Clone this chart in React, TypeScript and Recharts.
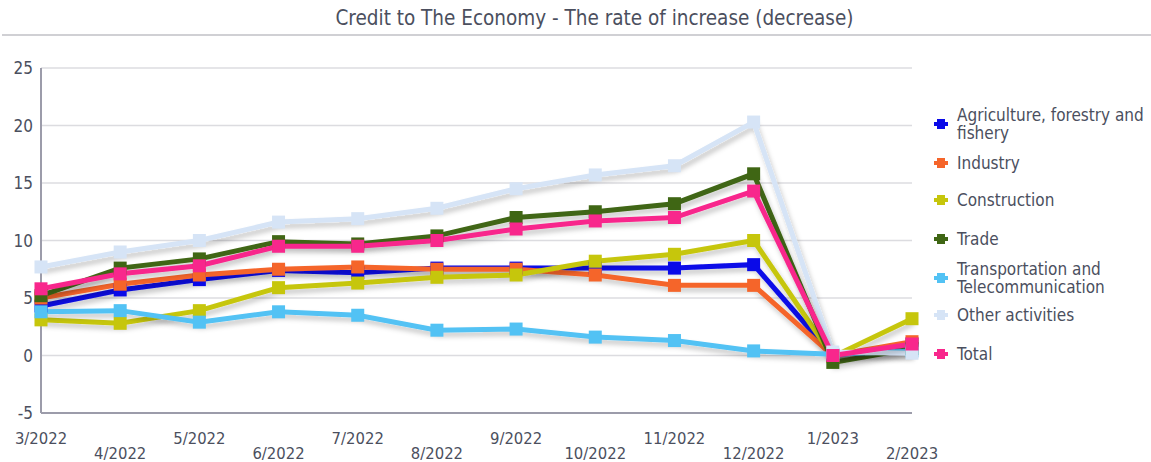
import { CartesianGrid, Line, LineChart, XAxis, YAxis } from "recharts";

document.body.style.margin = "0";

const months = [
  "3/2022", "4/2022", "5/2022", "6/2022", "7/2022", "8/2022",
  "9/2022", "10/2022", "11/2022", "12/2022", "1/2023", "2/2023",
];

const agriculture = [4.3, 5.7, 6.6, 7.4, 7.2, 7.6, 7.6, 7.6, 7.6, 7.9, 0.0, 1.0];
const industry = [5.0, 6.2, 7.0, 7.5, 7.7, 7.5, 7.5, 7.0, 6.1, 6.1, 0.0, 1.2];
const construction = [3.1, 2.8, 3.9, 5.9, 6.3, 6.8, 7.0, 8.2, 8.8, 10.0, -0.1, 3.2];
const trade = [5.2, 7.6, 8.4, 9.9, 9.7, 10.4, 12.0, 12.5, 13.2, 15.8, -0.6, 0.6];
const transport = [3.8, 3.9, 2.9, 3.8, 3.5, 2.2, 2.3, 1.6, 1.3, 0.4, 0.1, 0.4];
const other = [7.7, 9.0, 10.0, 11.6, 11.9, 12.8, 14.5, 15.7, 16.5, 20.3, 0.3, 0.2];
const total = [5.8, 7.1, 7.8, 9.5, 9.5, 10.0, 11.0, 11.7, 12.0, 14.3, 0.0, 1.0];

const yTicks = [-5, 0, 5, 10, 15, 20, 25];

const series = [
  { key: "agriculture", name: ["Agriculture, forestry and", "fishery"], color: "#0a0ae8", values: agriculture },
  { key: "industry", name: ["Industry"], color: "#f5652a", values: industry },
  { key: "construction", name: ["Construction"], color: "#c6c60c", values: construction },
  { key: "trade", name: ["Trade"], color: "#3f6614", values: trade },
  { key: "transport", name: ["Transportation and", "Telecommunication"], color: "#52c2f4", values: transport },
  { key: "other", name: ["Other activities"], color: "#d6e4f6", values: other },
  { key: "total", name: ["Total"], color: "#f8278c", values: total },
];

const data = months.map((m, i) => {
  const row: Record<string, string | number> = { month: m };
  series.forEach((s) => (row[s.key] = s.values[i]));
  return row;
});

const font = "'DejaVu Sans Condensed', 'DejaVu Sans', sans-serif";
const textColor = "#4b4f5e";

const legendRows = [
  { top: 106, h: 36 },
  { top: 153, h: 20 },
  { top: 190, h: 20 },
  { top: 229, h: 20 },
  { top: 260, h: 36 },
  { top: 305, h: 20 },
  { top: 344, h: 20 },
];

function SquareDot(props: any) {
  const { cx, cy, stroke } = props;
  if (cx == null || cy == null) return null;
  return <rect x={cx - 6.5} y={cy - 6.5} width={13} height={13} fill={stroke} />;
}

function MonthTick(props: any) {
  const { x, y, payload, index } = props;
  const dy = index % 2 === 0 ? 23 : 38;
  return (
    <text x={x} y={y + dy} textAnchor="middle" fontSize={16.5} fill={textColor} fontFamily={font}>
      {payload.value}
    </text>
  );
}

export default function App() {
  return (
    <div style={{ position: "relative", width: 1151, height: 462, background: "#fff", fontFamily: font }}>
      <div
        style={{
          position: "absolute",
          top: 6,
          left: 0,
          width: 1189,
          textAlign: "center",
          fontSize: 20.5,
          color: textColor,
        }}
      >
        Credit to The Economy - The rate of increase (decrease)
      </div>
      <div style={{ position: "absolute", top: 34, left: 2, width: 1149, height: 2, background: "#d0d0d4" }} />
      <LineChart
        width={1151}
        height={462}
        data={data}
        margin={{ top: 68, right: 239, bottom: 0, left: 6 }}
      >
        <defs>
          <filter id="shadow" x="-10%" y="-10%" width="130%" height="140%">
            <feDropShadow dx={2} dy={4} stdDeviation={2.5} floodColor="#000" floodOpacity={0.22} />
          </filter>
        </defs>
        <CartesianGrid vertical={false} stroke="#dcdce0" strokeWidth={1.5} />
        <XAxis
          dataKey="month"
          interval={0}
          height={49}
          tick={<MonthTick />}
          tickLine={false}
          axisLine={{ stroke: "#9c9caa", strokeWidth: 2 }}
        />
        <YAxis
          domain={[-5, 25]}
          ticks={yTicks}
          width={35}
          tick={{ fontSize: 17, fill: textColor, fontFamily: font }}
          tickLine={false}
          axisLine={{ stroke: "#9c9caa", strokeWidth: 2 }}
        />
        {series.map((s) => (
          <Line
            key={s.key}
            dataKey={s.key}
            stroke={s.color}
            strokeWidth={5}
            type="linear"
            dot={<SquareDot />}
            activeDot={false}
            filter="url(#shadow)"
            isAnimationActive={false}
          />
        ))}
      </LineChart>
      {series.map((s, i) => (
        <div
          key={s.key}
          style={{
            position: "absolute",
            left: 934,
            top: legendRows[i].top,
            height: legendRows[i].h,
            display: "flex",
            alignItems: "center",
          }}
        >
          <svg width={14} height={12} style={{ marginRight: 9 }}>
            <rect x={3} y={1} width={8} height={10} fill={s.color} />
            <rect x={0} y={4} width={14} height={4} fill={s.color} />
          </svg>
          <div style={{ fontSize: 17, lineHeight: "18px", color: textColor }}>
            {s.name.map((n) => (
              <div key={n}>{n}</div>
            ))}
          </div>
        </div>
      ))}
    </div>
  );
}
